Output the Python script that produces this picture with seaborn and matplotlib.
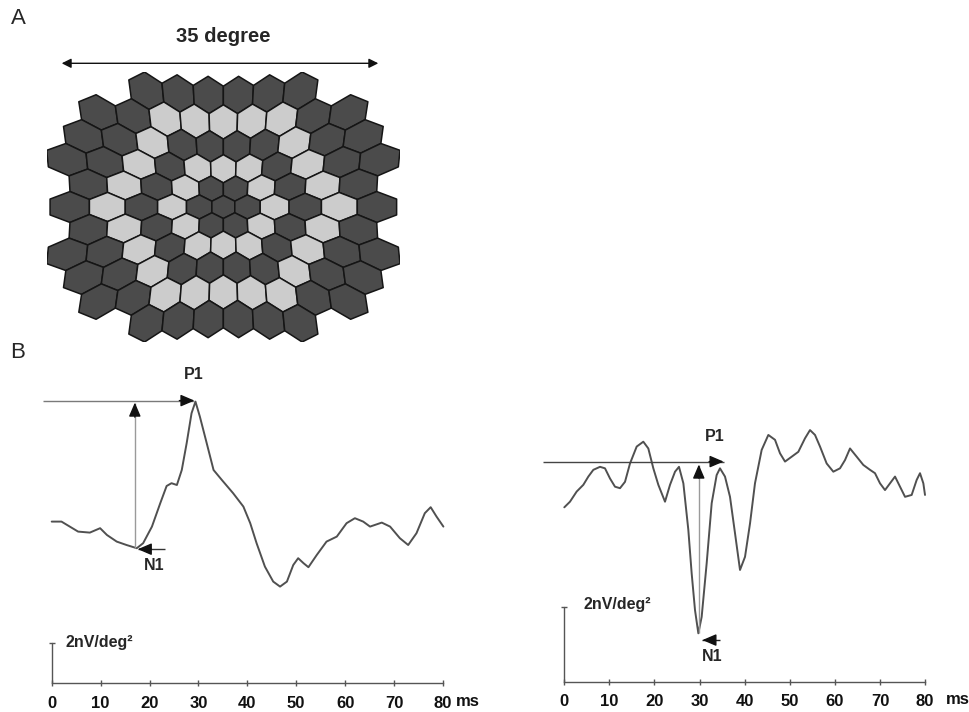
import numpy as np
import matplotlib
matplotlib.use('Agg')
import matplotlib.pyplot as plt
from matplotlib.patches import Polygon
from matplotlib.collections import PatchCollection
import seaborn as sns

# --- data ---------------------------------------------------------------
# panel A: shade of each ring of the hexagon stimulus (0 = centre, 6 = corner fillers)
ring_shade = ['dark', 'dark', 'light', 'dark', 'light', 'dark', 'dark']
n_rings = 5
extra_rows = [2, 3, 4]          # rows with one extra hexagon on each side (12 in all)
shade_color = {'dark': '#4b4b4b', 'light': '#cccccc'}
stretch = 0.046                 # eccentricity scaling of the hexagons

# panel B, left trace (ms, nV/deg2)
left_t = [0, 2.0, 3.7, 5.4, 7.8, 9.9, 11.3, 13.3, 15.3, 17.4, 18.7, 20.5, 22.2, 23.5,
          24.5, 25.6, 26.6, 27.6, 28.6, 29.4, 30.3, 31.7, 33.1, 34.8, 37.1, 39.2, 40.6,
          41.9, 43.6, 45.3, 46.7, 48.1, 49.4, 50.4, 51.5, 52.5, 54.2, 56.2, 58.3, 60.3,
          62.0, 63.7, 65.1, 67.5, 69.2, 71.2, 72.9, 74.6, 76.3, 77.5, 78.7, 80.1]
left_amp = [8.07, 8.07, 7.82, 7.57, 7.52, 7.74, 7.40, 7.07, 6.90, 6.74, 6.99, 7.82, 8.99,
            9.85, 9.99, 9.90, 10.65, 11.99, 13.49, 14.07, 13.32, 11.99, 10.65, 10.15, 9.49,
            8.82, 7.99, 6.99, 5.82, 5.07, 4.82, 5.07, 5.90, 6.24, 5.99, 5.79, 6.40, 7.07,
            7.32, 7.99, 8.24, 8.07, 7.82, 8.02, 7.82, 7.24, 6.90, 7.49, 8.49, 8.79, 8.32, 7.82]

# panel B, right trace
right_t = [0, 1.26, 2.74, 4.22, 5.33, 6.44, 7.92, 9.02, 10.13, 11.24, 12.35, 13.46, 14.57,
           16.05, 17.52, 18.63, 19.74, 20.85, 22.33, 23.44, 24.55, 25.43, 26.40, 27.50,
           28.24, 28.98, 29.72, 30.46, 31.57, 32.68, 33.78, 34.52, 35.63, 36.74, 37.85,
           38.96, 40.07, 41.18, 42.28, 43.76, 45.24, 46.72, 47.83, 48.94, 50.42, 51.89,
           53.37, 54.48, 55.59, 56.70, 58.17, 59.65, 61.13, 62.24, 63.35, 64.83, 66.30,
           67.78, 68.89, 70.00, 71.11, 72.22, 73.33, 74.44, 75.55, 77.02, 78.13, 78.87,
           79.61, 79.98]
right_amp = [4.65, 4.80, 5.07, 5.25, 5.47, 5.65, 5.73, 5.69, 5.42, 5.20, 5.16, 5.33, 5.82,
             6.27, 6.40, 6.22, 5.69, 5.25, 4.80, 5.25, 5.60, 5.73, 5.29, 4.05, 2.89, 1.91,
             1.29, 1.73, 3.16, 4.76, 5.51, 5.69, 5.47, 4.93, 3.96, 2.98, 3.33, 4.22, 5.29,
             6.18, 6.58, 6.45, 6.09, 5.87, 6.00, 6.13, 6.49, 6.71, 6.58, 6.27, 5.82, 5.60,
             5.69, 5.91, 6.22, 6.00, 5.78, 5.65, 5.56, 5.29, 5.11, 5.29, 5.47, 5.20, 4.93,
             4.98, 5.38, 5.56, 5.29, 4.98]

ticks_ms = [0, 10, 20, 30, 40, 50, 60, 70, 80]
scale_bar = 2   # nV/deg2

# --- style ----------------------------------------------------------------
sns.set_theme(style='white')
plt.rcParams['font.family'] = ['Liberation Sans', 'DejaVu Sans']

W, H = 969, 712
fig = plt.figure(figsize=(W / 100, H / 100), dpi=100)
fig.patch.set_facecolor('white')


def px_axes(x0, y0, x1, y1):
    # axes placed by pixel box (top-left origin)
    return fig.add_axes([x0 / W, 1 - y1 / H, (x1 - x0) / W, (y1 - y0) / H])


# --- A. hexagon stimulus ----------------------------------------------------
cells = []
for r in range(-n_rings - 1, n_rings + 2):
    for q in range(-n_rings - 2, n_rings + 3):
        d = max(abs(q), abs(r), abs(q + r))
        if d <= n_rings or (d == n_rings + 1 and abs(r) in extra_rows):
            cells.append((q, r, d))

ang = np.deg2rad(90 + 60 * np.arange(6))
polys, faces = [], []
for q, r, d in cells:
    cx, cy = np.sqrt(3) * (q + r / 2), 1.5 * r
    vx, vy = cx + np.cos(ang), cy + np.sin(ang)
    rho = np.hypot(vx, vy)
    polys.append(Polygon(np.column_stack([vx * (1 + stretch * rho), vy * (1 + stretch * rho)])))
    faces.append(shade_color[ring_shade[d]])

all_v = np.vstack([p.get_xy() for p in polys])
ax_a = px_axes(46.7, 72, 400, 342)
ax_a.add_collection(PatchCollection(polys, facecolors=faces, edgecolors='#151515', linewidths=1.1))
ax_a.set_xlim(all_v[:, 0].min(), all_v[:, 0].max())
ax_a.set_ylim(all_v[:, 1].max(), all_v[:, 1].min())
ax_a.axis('off')

fig.text(18 / W, 1 - 19 / H, 'A', fontsize=16, ha='center', va='center')
fig.text(223 / W, 1 - 37 / H, '35 degree', fontsize=14.5, fontweight='bold', ha='center', va='center')
fig.add_artist(matplotlib.patches.FancyArrowPatch(
    (61.7 / W, 1 - 63.3 / H), (378.3 / W, 1 - 63.3 / H), transform=fig.transFigure,
    arrowstyle='<|-|>', mutation_scale=14, color='#111111', lw=1.0, shrinkA=0, shrinkB=0))

fig.text(18 / W, 1 - 352 / H, 'B', fontsize=16, ha='center', va='center')


# --- B. traces --------------------------------------------------------------
def arrow(ax, x0, y0, x1, y1, shaft, head_frac=0.12):
    ax.plot([x0, x1], [y0, y1], color=shaft, lw=1.0, solid_capstyle='butt', clip_on=False)
    hx, hy = x1 - (x1 - x0) * head_frac, y1 - (y1 - y0) * head_frac
    ax.annotate('', xy=(x1, y1), xytext=(hx, hy), annotation_clip=False,
                arrowprops=dict(arrowstyle='-|>,head_length=0.7,head_width=0.3',
                                color='#111111', lw=1.0, shrinkA=0, shrinkB=0))


def trace_panel(ax, t, amp, tlim, alim, n_win, p_win, ms_t):
    t = np.asarray(t)
    amp = np.asarray(amp)
    sns.lineplot(x=t, y=amp, ax=ax, sort=False, estimator=None, color='#505050', lw=1.4)
    for ln in ax.lines:
        ln.set_solid_joinstyle('round')
    ax.set_xlim(*tlim)
    ax.set_ylim(*alim)
    ax.set_facecolor('none')
    for s in ['left', 'right', 'top']:
        ax.spines[s].set_visible(False)
    ax.spines['bottom'].set_position(('data', 0))
    ax.spines['bottom'].set_bounds(ticks_ms[0], ticks_ms[-1])
    ax.spines['bottom'].set_color('#555555')
    ax.spines['bottom'].set_linewidth(1.0)
    ax.set_yticks([])
    ax.set_xticks(ticks_ms)
    ax.set_xticklabels([str(v) for v in ticks_ms], fontweight='bold', fontsize=12)
    ax.tick_params(axis='x', direction='inout', length=4, width=1, color='#555555', pad=7,
                   bottom=True, labelcolor='#111111')
    ax.set_xlabel('')
    ax.set_ylabel('')
    ax.text(ms_t, 0, 'ms', fontsize=12, fontweight='bold', ha='center', va='center',
            color='#111111',
            transform=ax.transData + matplotlib.transforms.ScaledTranslation(0, -0.18, fig.dpi_scale_trans))
    # calibration bar
    ax.plot([0, 0], [0, scale_bar], color='#555555', lw=1.0, clip_on=False)
    ax.plot([0], [scale_bar], marker='_', ms=5, mew=1.0, color='#555555', clip_on=False)
    # N1 / P1 from the trace
    mn = (t >= n_win[0]) & (t <= n_win[1])
    i_n = np.flatnonzero(mn)[np.argmin(amp[mn])]
    mp = (t >= p_win[0]) & (t <= p_win[1])
    i_p = np.flatnonzero(mp)[np.argmax(amp[mp])]
    return t[i_n], amp[i_n], t[i_p], amp[i_p]


# left panel: x px = 51.7 + 4.89 t, y px = 683 - 20 a
ax_l = px_axes(51.7 + 4.89 * -4, 683 - 20 * 16, 51.7 + 4.89 * 88, 683 + 20 * 1.4)
nt, na, pt, pa = trace_panel(ax_l, left_t, left_amp, (-4, 88), (-1.4, 16), (10, 25), (25, 35), 85.0)
arrow(ax_l, -1.8, pa + 0.05, pt - 0.2, pa + 0.05, '#7a7a7a', head_frac=0.1)
arrow(ax_l, nt - 0.4, na, nt - 0.4, pa - 0.05, '#9a9a9a', head_frac=0.1)
arrow(ax_l, nt + 5.8, na - 0.05, nt + 0.2, na - 0.05, '#333333', head_frac=0.5)
ax_l.text(pt - 0.3, pa + 1.35, 'P1', fontsize=11.5, fontweight='bold', ha='center', va='center')
ax_l.text(nt + 3.5, na - 0.85, 'N1', fontsize=11.5, fontweight='bold', ha='center', va='center')
ax_l.text(2.9, scale_bar, '2nV/deg²', fontsize=11.5, fontweight='bold', ha='left', va='center')

# right panel: x px = 564.3 + 4.51 t, y px = 681.7 - 37.5 a
ax_r = px_axes(564.3 + 4.51 * -6, 681.7 - 37.5 * 8.3, 564.3 + 4.51 * 88, 681.7 + 37.5 * 0.8)
nt, na, pt, pa = trace_panel(ax_r, right_t, right_amp, (-6, 88), (-0.8, 8.3), (25, 33), (32, 37), 87.2)
arrow(ax_r, -4.8, pa + 0.18, pt + 0.8, pa + 0.18, '#444444', head_frac=0.08)
arrow(ax_r, nt + 0.1, na, nt + 0.1, pa + 0.1, '#9a9a9a', head_frac=0.08)
arrow(ax_r, nt + 4.9, na - 0.18, nt + 0.9, na - 0.18, '#222222', head_frac=0.6)
ax_r.text(pt - 1.1, pa + 0.84, 'P1', fontsize=11.5, fontweight='bold', ha='center', va='center')
ax_r.text(nt + 3.1, na - 0.62, 'N1', fontsize=11.5, fontweight='bold', ha='center', va='center')
ax_r.text(4.2, scale_bar + 0.05, '2nV/deg²', fontsize=11.5, fontweight='bold', ha='left', va='center')

fig.savefig('out.png', dpi=100, facecolor='white')
